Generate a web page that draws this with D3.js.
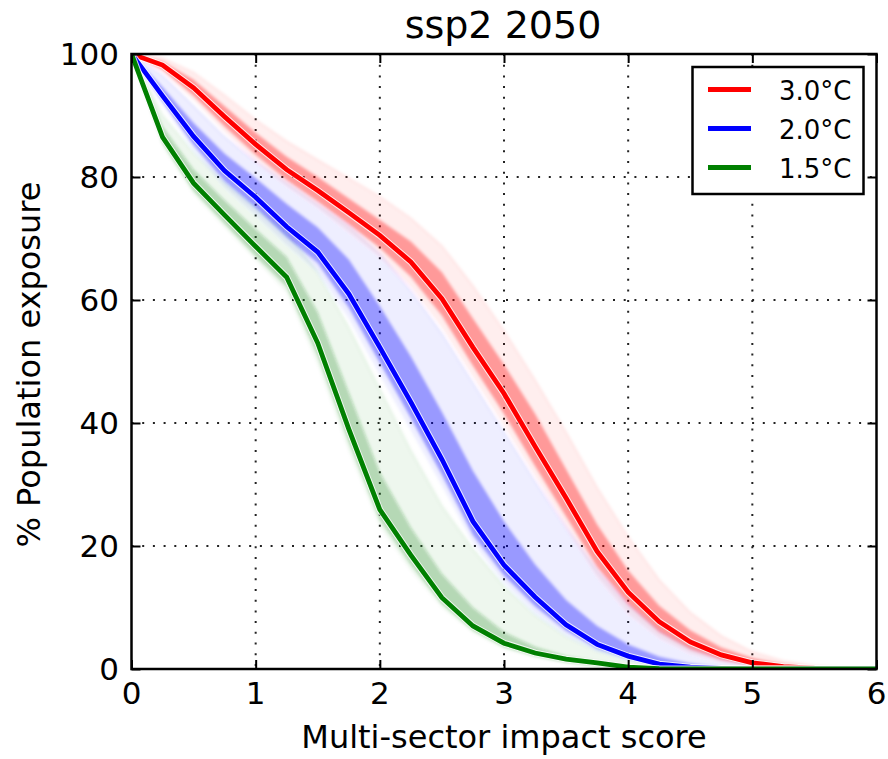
<!DOCTYPE html>
<html>
<head>
<meta charset="utf-8">
<script src="https://cdn.jsdelivr.net/npm/d3@7"></script>
<style>
  html, body { margin: 0; padding: 0; background: #ffffff; }
  svg { display: block; font-family: "DejaVu Sans", sans-serif; }
</style>
</head>
<body>
<svg id="chart" width="888" height="759"></svg>
<script>
// ---------- data ----------
const title = "ssp2 2050";
const xLabel = "Multi-sector impact score";
const yLabel = "% Population exposure";
const xTicks = [0, 1, 2, 3, 4, 5, 6];
const yTicks = [0, 20, 40, 60, 80, 100];
const scores = [0, 0.25, 0.5, 0.75, 1, 1.25, 1.5, 1.75, 2, 2.25, 2.5, 2.75, 3, 3.25, 3.5, 3.75, 4, 4.25, 4.5, 4.75, 5, 5.25, 5.5, 5.75, 6];
const seriesNames = ["3.0°C", "2.0°C", "1.5°C"];

// median curves
const red30   = [100, 98.2, 94.5, 89.8, 85.3, 81.2, 77.8, 74.2, 70.5, 66.2, 60.2, 52.3, 44.8, 36.2, 27.8, 19.1, 12.5, 7.7, 4.4, 2.3, 1.0, 0.4, 0.15, 0.05, 0];
const blue20  = [100, 93.2, 86.6, 81.0, 76.7, 71.9, 67.8, 61.0, 52.3, 43.4, 34.1, 24.0, 16.9, 11.7, 7.2, 4.0, 2.1, 0.8, 0.3, 0.1, 0, 0, 0, 0, 0];
const green15 = [100, 86.5, 79.0, 73.8, 68.7, 63.7, 53.0, 39.0, 25.9, 18.5, 11.6, 7.0, 4.2, 2.6, 1.6, 1.0, 0.3, 0.05, 0, 0, 0, 0, 0, 0, 0];

// ensemble spread: dense core (lo/hi) and faint outer range (lo/hi)
const red30CoreLo  = [100, 97.5, 93.2, 88.2, 83.6, 79.5, 76.0, 72.3, 68.5, 63.8, 57.5, 49.3, 41.5, 33.0, 24.8, 16.6, 10.5, 6.0, 3.2, 1.5, 0.6, 0.2, 0.05, 0, 0];
const red30CoreHi  = [100, 98.8, 95.8, 91.5, 87.2, 83.3, 80.0, 76.5, 73.0, 69.5, 64.5, 57.0, 49.5, 41.5, 32.5, 23.5, 16.0, 10.3, 6.3, 3.5, 1.8, 0.8, 0.3, 0.1, 0];
const red30FaintLo = [100, 97.0, 92.5, 87.3, 82.5, 78.5, 75.0, 71.0, 67.0, 62.0, 55.5, 47.5, 39.5, 31.3, 23.0, 15.0, 9.0, 5.0, 2.5, 1.1, 0.4, 0.1, 0, 0, 0];
const red30FaintHi = [100, 99.3, 97.0, 93.3, 89.3, 85.8, 82.8, 79.8, 76.8, 73.3, 68.8, 62.3, 55.0, 47.0, 38.5, 29.5, 21.5, 14.5, 9.2, 5.4, 2.8, 1.3, 0.5, 0.2, 0];

const blue20CoreLo  = [100, 92.3, 85.2, 79.3, 75.0, 70.2, 66.0, 58.8, 49.8, 40.8, 31.6, 21.8, 15.2, 10.2, 6.2, 3.3, 1.7, 0.6, 0.2, 0, 0, 0, 0, 0, 0];
const blue20CoreHi  = [100, 94.6, 88.8, 83.8, 79.8, 75.6, 71.8, 66.6, 59.0, 50.8, 41.8, 32.2, 24.0, 17.0, 11.2, 7.0, 4.0, 2.0, 0.9, 0.3, 0.1, 0, 0, 0, 0];
const blue20FaintLo = [100, 91.8, 84.3, 78.3, 73.8, 69.0, 64.5, 57.0, 47.8, 38.8, 29.8, 20.5, 14.0, 9.0, 5.4, 2.9, 1.4, 0.5, 0.1, 0, 0, 0, 0, 0, 0];
const blue20FaintHi = [100, 96.5, 91.5, 86.5, 82.5, 79.0, 75.5, 72.0, 67.5, 61.5, 54.5, 46.5, 38.5, 30.5, 23.0, 16.0, 10.5, 6.3, 3.4, 1.6, 0.7, 0.2, 0.05, 0, 0];

const green15CoreLo  = [100, 85.6, 77.8, 72.5, 67.2, 62.2, 51.0, 37.0, 24.3, 17.0, 10.6, 6.3, 3.6, 2.1, 1.1, 0.5, 0.1, 0, 0, 0, 0, 0, 0, 0, 0];
const green15CoreHi  = [100, 88.2, 81.2, 76.2, 71.5, 67.0, 58.0, 45.0, 32.0, 23.0, 15.5, 10.0, 6.0, 3.6, 2.1, 1.2, 0.5, 0.2, 0, 0, 0, 0, 0, 0, 0];
const green15FaintLo = [100, 85.0, 77.2, 71.8, 66.5, 61.2, 49.5, 35.5, 23.2, 16.0, 10.0, 5.9, 3.3, 1.9, 1.0, 0.4, 0.1, 0, 0, 0, 0, 0, 0, 0, 0];
const green15FaintHi = [100, 90.0, 84.0, 79.0, 75.0, 71.0, 64.5, 55.5, 45.5, 35.5, 26.5, 19.5, 13.5, 8.8, 5.3, 3.0, 1.5, 0.6, 0.2, 0, 0, 0, 0, 0, 0];

const colors = ["#ff0000", "#0000ff", "#008000"];
const coreColors = ["#ff0000", "#0000ff", "#1a8a1a"];

// ---------- layout ----------
const svg = d3.select("#chart");
const M = { left: 131.5, right: 876.5, top: 54, bottom: 669 };

const x = d3.scaleLinear().domain([0, 6]).range([M.left, M.right]);
const y = d3.scaleLinear().domain([0, 100]).range([M.bottom, M.top]);

svg.append("rect").attr("width", 888).attr("height", 759).attr("fill", "#ffffff");

const defs = svg.append("defs");
defs.append("filter").attr("id", "soft").attr("x", "-5%").attr("y", "-5%").attr("width", "110%").attr("height", "110%")
  .append("feGaussianBlur").attr("stdDeviation", 1.8);

// grid (dotted)
const grid = svg.append("g");
grid.selectAll("line.gx").data(xTicks.slice(1, -1)).join("line")
  .attr("x1", d => x(d)).attr("x2", d => x(d))
  .attr("y1", M.top).attr("y2", M.bottom)
  .attr("stroke", "#222").attr("stroke-width", 2).attr("stroke-dasharray", "2,8.7");
grid.selectAll("line.gy").data(yTicks.slice(1, -1)).join("line")
  .attr("y1", d => y(d)).attr("y2", d => y(d))
  .attr("x1", M.left).attr("x2", M.right)
  .attr("stroke", "#222").attr("stroke-width", 2).attr("stroke-dasharray", "2,8.7");

// clip for plot area
defs.append("clipPath").attr("id", "clip").append("rect")
  .attr("x", M.left).attr("y", M.top).attr("width", M.right - M.left).attr("height", M.bottom - M.top);

const plot = svg.append("g").attr("clip-path", "url(#clip)");
const bands = plot.append("g").attr("filter", "url(#soft)");

const ens = [
  { faintLo: red30FaintLo, faintHi: red30FaintHi, coreLo: red30CoreLo, coreHi: red30CoreHi },
  { faintLo: blue20FaintLo, faintHi: blue20FaintHi, coreLo: blue20CoreLo, coreHi: blue20CoreHi },
  { faintLo: green15FaintLo, faintHi: green15FaintHi, coreLo: green15CoreLo, coreHi: green15CoreHi }
];
const mains = [red30, blue20, green15];

const area = (lo, hi) => d3.area()
  .x((d, i) => x(scores[i]))
  .y0((d, i) => y(lo[i]))
  .y1((d, i) => y(hi[i]))(scores);

const line = d3.line().x((d, i) => x(scores[i])).y(d => y(d));

// faint ranges (draw from back)
[2, 1, 0].forEach(k => {
  bands.append("path").attr("d", area(ens[k].faintLo, ens[k].faintHi))
    .attr("fill", coreColors[k]).attr("fill-opacity", 0.065);
  bands.append("path").attr("d", line(ens[k].faintHi))
    .attr("fill", "none").attr("stroke", coreColors[k]).attr("stroke-opacity", 0.07).attr("stroke-width", 2);
});
// dense cores
[2, 1, 0].forEach(k => {
  bands.append("path").attr("d", area(ens[k].coreLo, ens[k].coreHi))
    .attr("fill", coreColors[k]).attr("fill-opacity", k === 2 ? 0.28 : 0.36);
});
// main lines with a thin white halo
[0, 1, 2].forEach(k => {
  plot.append("path").attr("d", line(mains[k]))
    .attr("fill", "none").attr("stroke", "#ffffff").attr("stroke-opacity", 0.8)
    .attr("stroke-width", 6.8).attr("stroke-linejoin", "miter");
  plot.append("path").attr("d", line(mains[k]))
    .attr("fill", "none").attr("stroke", colors[k])
    .attr("stroke-width", 4.8).attr("stroke-linejoin", "miter");
});

// axes frame
svg.append("rect").attr("x", M.left).attr("y", M.top)
  .attr("width", M.right - M.left).attr("height", M.bottom - M.top)
  .attr("fill", "none").attr("stroke", "#000").attr("stroke-width", 2.5);

// ticks (inward on all sides) using d3 axes
const tickLen = 9;
const axB = svg.append("g").attr("transform", `translate(0,${M.bottom})`)
  .call(d3.axisTop(x).tickValues(xTicks).tickSize(tickLen).tickFormat(""));
const axT = svg.append("g").attr("transform", `translate(0,${M.top})`)
  .call(d3.axisBottom(x).tickValues(xTicks).tickSize(tickLen).tickFormat(""));
const axL = svg.append("g").attr("transform", `translate(${M.left},0)`)
  .call(d3.axisRight(y).tickValues(yTicks).tickSize(tickLen).tickFormat(""));
const axR = svg.append("g").attr("transform", `translate(${M.right},0)`)
  .call(d3.axisLeft(y).tickValues(yTicks).tickSize(tickLen).tickFormat(""));
[axB, axT, axL, axR].forEach(g => {
  g.select(".domain").remove();
  g.selectAll(".tick line").attr("stroke", "#000").attr("stroke-width", 2);
});

// tick labels
svg.append("g").selectAll("text").data(xTicks).join("text")
  .attr("x", d => x(d)).attr("y", 704)
  .attr("text-anchor", "middle").attr("font-size", 31).attr("fill", "#000")
  .text(d => d);
svg.append("g").selectAll("text").data(yTicks).join("text")
  .attr("x", 119).attr("y", d => y(d) + 11)
  .attr("text-anchor", "end").attr("font-size", 31).attr("fill", "#000")
  .text(d => d);

// title & labels
svg.append("text").attr("x", (M.left + M.right) / 2 - 1).attr("y", 38)
  .attr("text-anchor", "middle").attr("font-size", 38).attr("fill", "#000").text(title);
svg.append("text").attr("x", (M.left + M.right) / 2).attr("y", 748)
  .attr("text-anchor", "middle").attr("font-size", 32).attr("fill", "#000").text(xLabel);
svg.append("text")
  .attr("transform", `translate(40,${(M.top + M.bottom) / 2 + 3}) rotate(-90)`)
  .attr("text-anchor", "middle").attr("font-size", 32).attr("fill", "#000").text(yLabel);

// legend
const leg = svg.append("g");
leg.append("rect").attr("x", 692.5).attr("y", 67).attr("width", 171).attr("height", 127)
  .attr("fill", "#fff").attr("stroke", "#000").attr("stroke-width", 2.5);
seriesNames.forEach((name, i) => {
  const ly = 89.5 + i * 39;
  leg.append("line").attr("x1", 708).attr("x2", 751).attr("y1", ly).attr("y2", ly)
    .attr("stroke", colors[i]).attr("stroke-width", 4.8);
  leg.append("text").attr("x", 779).attr("y", ly + 10)
    .attr("font-size", 26).attr("fill", "#000").text(name);
});
</script>
</body>
</html>
